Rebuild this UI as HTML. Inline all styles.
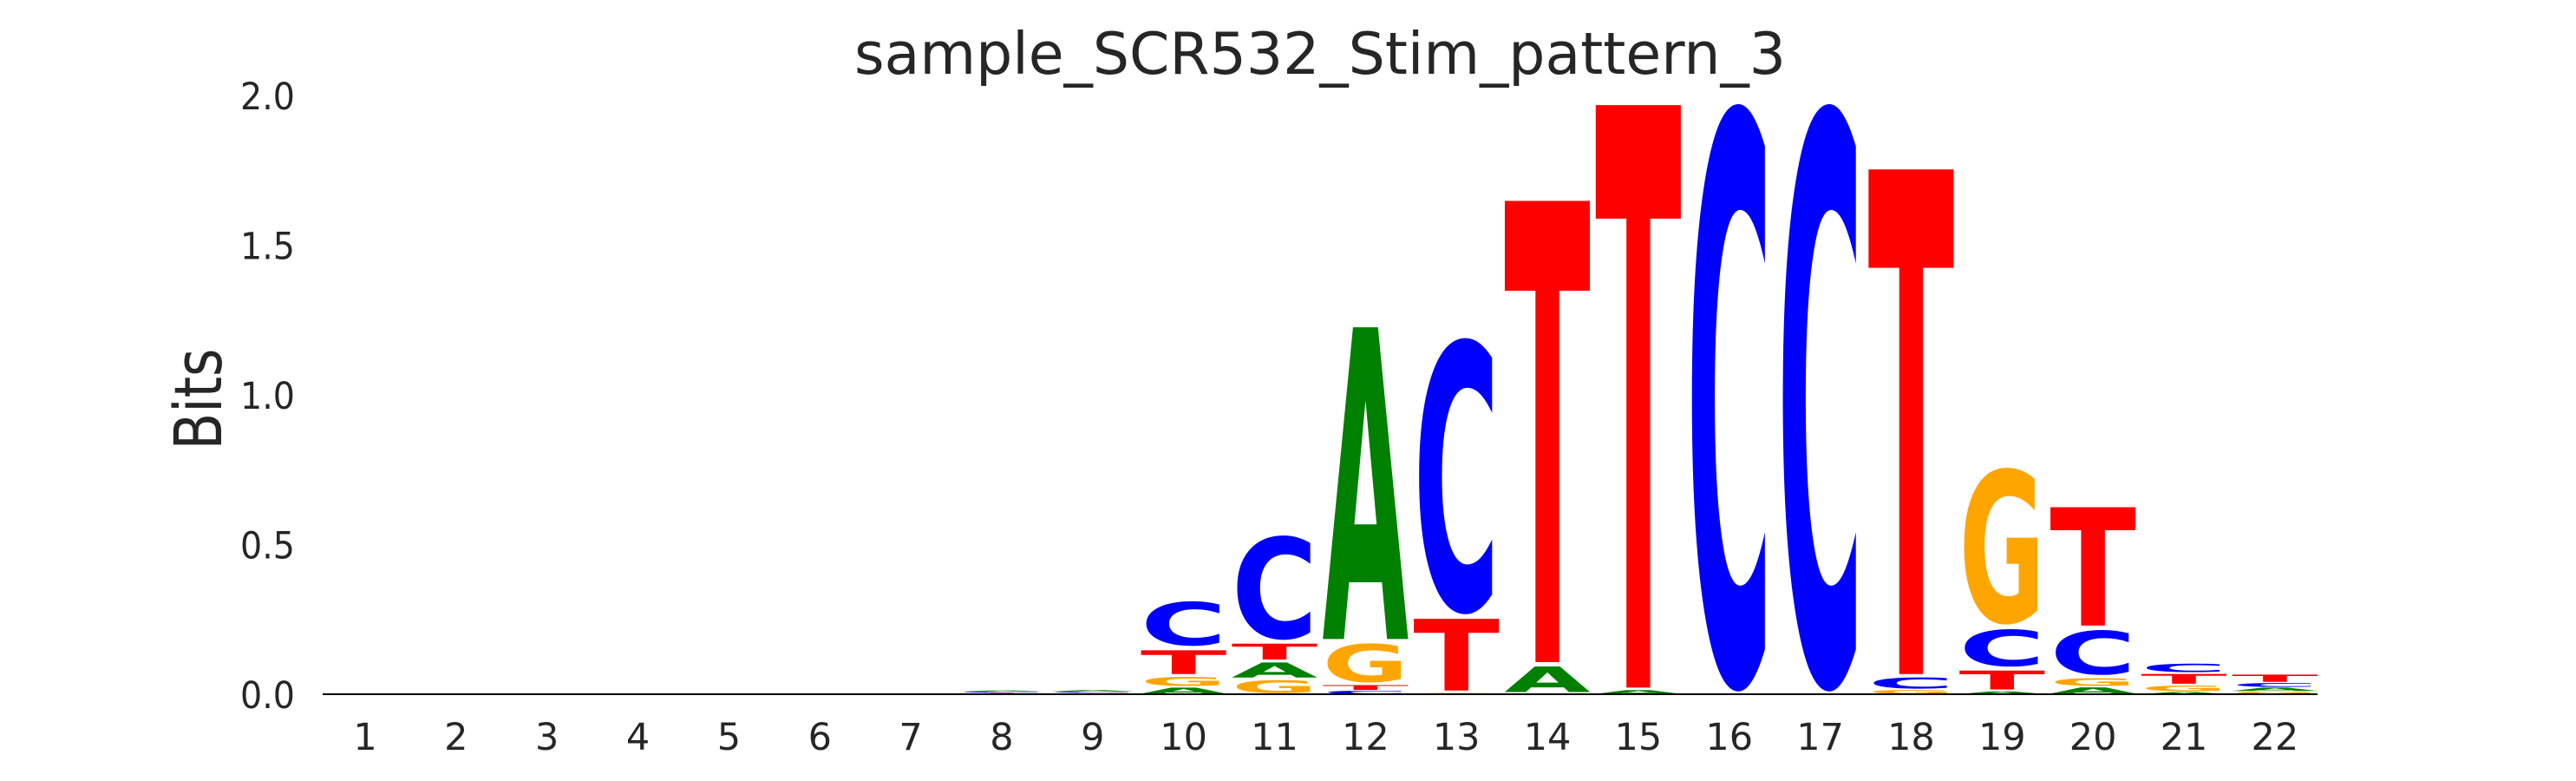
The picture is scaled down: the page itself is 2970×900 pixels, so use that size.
<!DOCTYPE html>
<html><head><meta charset="utf-8"><style>
html,body{margin:0;padding:0;background:#fff;width:2970px;height:900px;overflow:hidden;}
svg{display:block;overflow:hidden;}
text{font-family:"DejaVu Sans","Liberation Sans",sans-serif;}
</style></head><body>
<svg id="chart" width="2970" height="900" viewBox="0 0 2970 900" xmlns="http://www.w3.org/2000/svg">
<text x="1522" y="85" font-size="67" fill="#262626" text-anchor="middle" textLength="1074" lengthAdjust="spacingAndGlyphs">sample_SCR532_Stim_pattern_3</text>
<text transform="translate(255,460) rotate(-90)" font-size="76" fill="#262626" text-anchor="middle" textLength="117" lengthAdjust="spacingAndGlyphs">Bits</text>
<g id="yticks"></g>
<g id="xticks"></g>
<g id="letters"></g>
<line x1="372" y1="800" x2="2672" y2="800" stroke="#000" stroke-width="2"/>
</svg>
<script>
// Data: positions, and per-position stacks (bottom to top) of [letter, bits]
const positions = [1,2,3,4,5,6,7,8,9,10,11,12,13,14,15,16,17,18,19,20,21,22];
const yTicks = [0.0, 0.5, 1.0, 1.5, 2.0];
const yTickLabels = ["0.0","0.5","1.0","1.5","2.0"];
const stackLetters = [
 [],[],[],[],[],[],[],
 ["G","T","C","A"],
 ["T","G","C","A"],
 ["A","G","T","C"],
 ["G","A","T","C"],
 ["C","T","G","A"],
 ["G","T","C"],
 ["A","T"],
 ["A","T"],
 ["C"],
 ["C"],
 ["G","C","T"],
 ["A","T","C","G"],
 ["A","G","C","T"],
 ["A","G","T","C"],
 ["G","A","C","T"]
];
const stackBits = [
 [],[],[],[],[],[],[],
 [0.003,0.002,0.004,0.004],
 [0.002,0.003,0.004,0.005],
 [0.024,0.036,0.094,0.164],
 [0.051,0.060,0.063,0.364],
 [0.013,0.019,0.145,1.056],
 [0.005,0.254,0.940],
 [0.100,1.555],
 [0.015,1.960],
 [1.983],
 [1.983],
 [0.015,0.045,1.700],
 [0.010,0.075,0.140,0.540],
 [0.025,0.032,0.165,0.410],
 [0.008,0.024,0.039,0.034],
 [0.010,0.013,0.016,0.029]
];
const colors = {A:"#008000",C:"#0000ff",G:"#ffa500",T:"#ff0000"};
// glyph vertical extents (font units at 100px): top (negative = above baseline), bottom
const glyphTop = {A:-72.9,C:-74.4,G:-74.4,T:-72.9};
const glyphBot = {A:0,C:1.5,G:1.5,T:0};

const X0 = 421, STEP = 104.85, Y0 = 800, PXPERBIT = 345;
function xScale(p){ return X0 + (p-1)*STEP; }
function yScale(b){ return Y0 - b*PXPERBIT; }
const NS = "http://www.w3.org/2000/svg";

const yg = document.getElementById('yticks');
yTicks.forEach((v,i)=>{
  const t = document.createElementNS(NS,'text');
  
  
  t.setAttribute('x',340); t.setAttribute('y',yScale(v)+16);
  t.setAttribute('font-size','43'); t.setAttribute('fill','#262626');
  t.setAttribute('text-anchor','end');
  t.setAttribute('textLength','63'); t.setAttribute('lengthAdjust','spacingAndGlyphs');
  t.textContent = yTickLabels[i];
  yg.appendChild(t);
});
const xg = document.getElementById('xticks');
positions.forEach(p=>{
  const t = document.createElementNS(NS,'text');
  
  
  t.setAttribute('x',xScale(p)); t.setAttribute('y',864);
  t.setAttribute('font-size','43'); t.setAttribute('fill','#262626');
  t.setAttribute('text-anchor','middle');
  t.textContent = String(p);
  xg.appendChild(t);
});

const lg = document.getElementById('letters');
const W = STEP*0.95;
positions.forEach((p,i)=>{
  let base = 0;
  stackLetters[i].forEach((L,j)=>{
    const h = stackBits[i][j];
    const hp = h*PXPERBIT;
    const pad = Math.min(2.5, hp*0.08);
    const yb = yScale(base) - pad, yt = yScale(base + h) + pad;
    base += h;
    const t = document.createElementNS(NS,'text');
    
    
    t.setAttribute('font-size','100'); t.setAttribute('font-weight','bold');
    t.setAttribute('fill',colors[L]);
    t.textContent = L;
    lg.appendChild(t);
    const bb = t.getBBox();
    const gtop = glyphTop[L], gh = glyphBot[L] - gtop;
    const sx = W/bb.width, sy = Math.max(yb-yt,0.01)/gh;
    const tx = xScale(p) - W/2 - bb.x*sx;
    const ty = yt - gtop*sy;
    t.setAttribute('transform','translate('+tx+','+ty+') scale('+sx+','+sy+')');
  });
});
</script>
</body></html>
